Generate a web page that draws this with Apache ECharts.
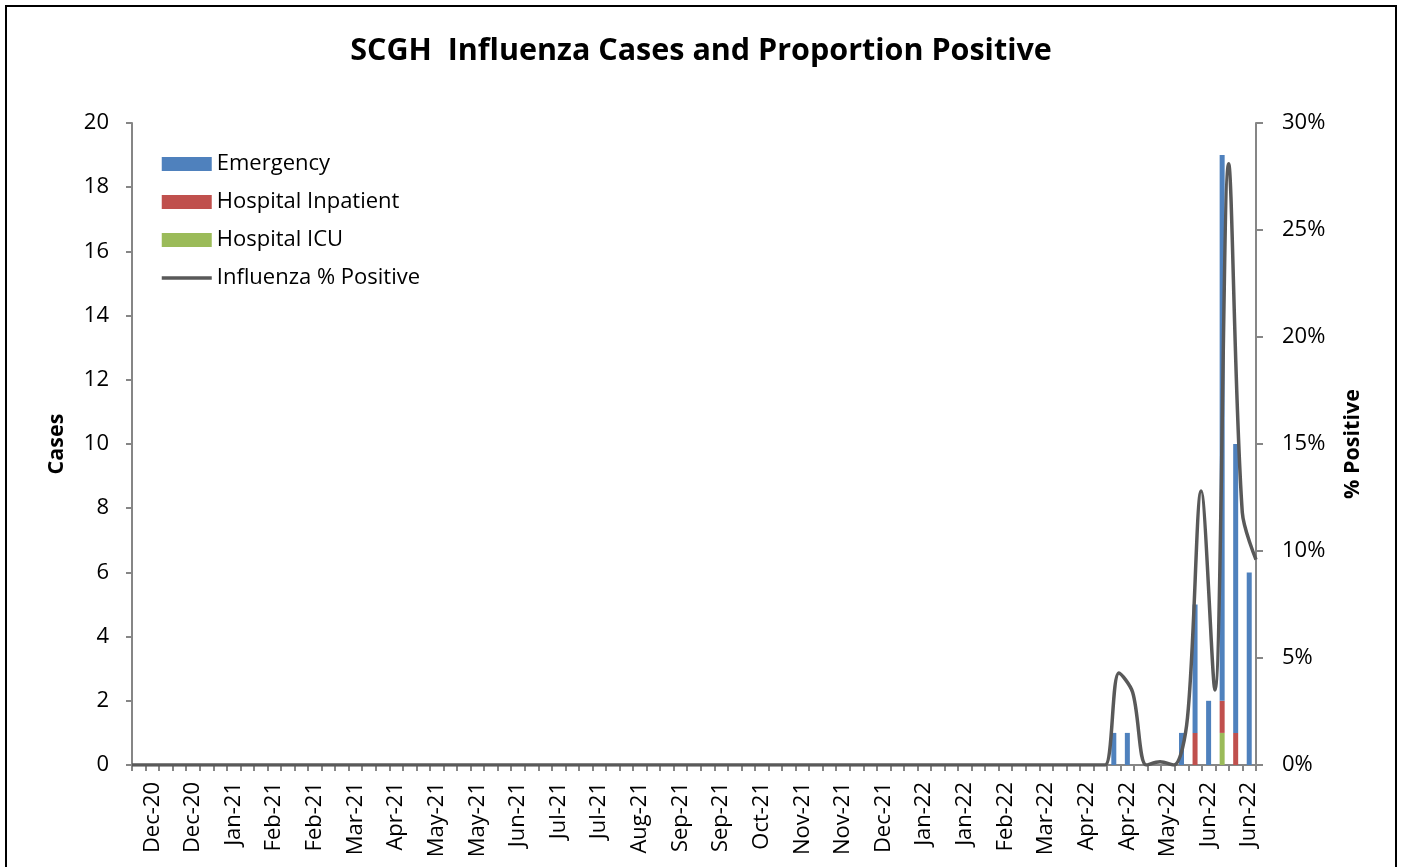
<!DOCTYPE html>
<html>
<head>
<meta charset="utf-8">
<title>SCGH Influenza</title>
<script src="https://cdn.jsdelivr.net/npm/echarts@6/dist/echarts.min.js"></script>
<style>
  html, body { margin: 0; padding: 0; background: #fff; }
  #chart { width: 1402px; height: 867px; }
</style>
</head>
<body>
<div id="chart"></div>
<script>
// weekly categories, Nov-20 .. Jun-22 (83 weeks)
var weeks = [];
for (var w = 0; w < 83; w++) {
  var d = new Date(Date.UTC(2020, 10, 29 + w * 7));
  weeks.push(d.toISOString().slice(0, 10));
}
// labels shown every 3rd week starting at week 1
var tickLabels = ["Dec-20", "Dec-20", "Jan-21", "Feb-21", "Feb-21", "Mar-21", "Apr-21",
  "May-21", "May-21", "Jun-21", "Jul-21", "Jul-21", "Aug-21", "Sep-21", "Sep-21",
  "Oct-21", "Nov-21", "Nov-21", "Dec-21", "Jan-22", "Jan-22", "Feb-22", "Mar-22",
  "Apr-22", "Apr-22", "May-22", "Jun-22", "Jun-22"];

var emergency = [
  0, 0, 0, 0, 0, 0, 0, 0, 0, 0, 0, 0, 0, 0, 0, 0, 0, 0, 0, 0,
  0, 0, 0, 0, 0, 0, 0, 0, 0, 0, 0, 0, 0, 0, 0, 0, 0, 0, 0, 0,
  0, 0, 0, 0, 0, 0, 0, 0, 0, 0, 0, 0, 0, 0, 0, 0, 0, 0, 0, 0,
  0, 0, 0, 0, 0, 0, 0, 0, 0, 0, 0, 0, 1, 1, 0, 0, 0, 1, 4, 2,
  17, 9, 6];
var inpatient = [
  0, 0, 0, 0, 0, 0, 0, 0, 0, 0, 0, 0, 0, 0, 0, 0, 0, 0, 0, 0,
  0, 0, 0, 0, 0, 0, 0, 0, 0, 0, 0, 0, 0, 0, 0, 0, 0, 0, 0, 0,
  0, 0, 0, 0, 0, 0, 0, 0, 0, 0, 0, 0, 0, 0, 0, 0, 0, 0, 0, 0,
  0, 0, 0, 0, 0, 0, 0, 0, 0, 0, 0, 0, 0, 0, 0, 0, 0, 0, 1, 0,
  1, 1, 0];
var icu = [
  0, 0, 0, 0, 0, 0, 0, 0, 0, 0, 0, 0, 0, 0, 0, 0, 0, 0, 0, 0,
  0, 0, 0, 0, 0, 0, 0, 0, 0, 0, 0, 0, 0, 0, 0, 0, 0, 0, 0, 0,
  0, 0, 0, 0, 0, 0, 0, 0, 0, 0, 0, 0, 0, 0, 0, 0, 0, 0, 0, 0,
  0, 0, 0, 0, 0, 0, 0, 0, 0, 0, 0, 0, 0, 0, 0, 0, 0, 0, 0, 0,
  1, 0, 0];
// % positive
var pctPositive = [
  0, 0, 0, 0, 0, 0, 0, 0, 0, 0, 0, 0, 0, 0, 0, 0, 0, 0, 0, 0,
  0, 0, 0, 0, 0, 0, 0, 0, 0, 0, 0, 0, 0, 0, 0, 0, 0, 0, 0, 0,
  0, 0, 0, 0, 0, 0, 0, 0, 0, 0, 0, 0, 0, 0, 0, 0, 0, 0, 0, 0,
  0, 0, 0, 0, 0, 0, 0, 0, 0, 0, 0, 0, 4.3, 3.4, 0, 0.15, 0, 2.2, 12.8, 3.5,
  28.1, 11.8, 9.6];

(function () {
  var myechart = echarts.init(document.getElementById("chart"));
  var font = "'Open Sans', 'Noto Sans', sans-serif";
  var axisColor = "#868686";
  var lineColor = "#595959";

  var option = {
    animation: false,
    textStyle: { fontFamily: font, color: "#000" },
    title: {
      text: "SCGH  Influenza Cases and Proportion Positive",
      left: "center",
      top: 31,
      textStyle: { fontFamily: font, fontSize: 30.5, fontWeight: "bold", color: "#000" },
    },
    graphic: [
      {
        type: "rect",
        shape: { x: 6, y: 6, width: 1390, height: 880 },
        style: { fill: "none", stroke: "#000", lineWidth: 2 },
        silent: true,
      },
    ],
    legend: {
      orient: "vertical",
      left: 155,
      top: 148,
      itemWidth: 50,
      itemHeight: 14,
      itemGap: 16,
      textStyle: { fontFamily: font, fontSize: 22, color: "#000" },
      data: [
        { name: "Emergency", icon: "rect" },
        { name: "Hospital Inpatient", icon: "rect" },
        { name: "Hospital ICU", icon: "rect" },
        { name: "Influenza % Positive", itemStyle: { opacity: 0 }, lineStyle: { width: 3.5 } },
      ],
    },
    grid: {
      left: 132,
      right: 146,
      top: 123,
      bottom: 102,
      containLabel: false,
    },
    xAxis: [
      {
        type: "category",
        data: weeks,
        boundaryGap: true,
        axisLine: { lineStyle: { color: axisColor, width: 2 } },
        axisTick: { show: true, interval: 0, length: 6, lineStyle: { color: axisColor, width: 2 } },
        axisLabel: {
          rotate: 90,
          fontSize: 22,
          color: "#000",
          margin: 17,
          interval: function (index) {
            return index % 3 === 1;
          },
          formatter: function (value, index) {
            return index % 3 === 1 ? tickLabels[(index - 1) / 3] : "";
          },
        },
      },
      {
        type: "category",
        data: weeks,
        boundaryGap: false,
        show: false,
      },
    ],
    yAxis: [
      {
        type: "value",
        name: "Cases",
        nameLocation: "middle",
        nameRotate: 90,
        nameGap: 64,
        nameTextStyle: { fontFamily: font, fontSize: 21.5, fontWeight: "bold", color: "#000" },
        min: 0,
        max: 20,
        interval: 2,
        axisLine: { show: true, lineStyle: { color: axisColor, width: 2 } },
        axisTick: { show: true, length: 6, lineStyle: { color: axisColor, width: 2 } },
        axisLabel: { fontSize: 22, color: "#000", margin: 23 },
        splitLine: { show: false },
      },
      {
        type: "value",
        name: "% Positive",
        nameLocation: "middle",
        nameRotate: 90,
        nameGap: 86,
        nameTextStyle: { fontFamily: font, fontSize: 21.5, fontWeight: "bold", color: "#000" },
        min: 0,
        max: 30,
        interval: 5,
        position: "right",
        axisLine: { show: true, lineStyle: { color: axisColor, width: 2 } },
        axisTick: { show: true, length: 7, lineStyle: { color: axisColor, width: 2 } },
        axisLabel: { fontSize: 22, color: "#000", margin: 26, formatter: "{value}%" },
        splitLine: { show: false },
      },
    ],
    series: [
      {
        name: "Hospital ICU",
        type: "bar",
        stack: "cases",
        barWidth: 5,
        itemStyle: { color: "#9BBB59" },
        data: icu,
      },
      {
        name: "Hospital Inpatient",
        type: "bar",
        stack: "cases",
        barWidth: 5,
        itemStyle: { color: "#C0504D" },
        data: inpatient,
      },
      {
        name: "Emergency",
        type: "bar",
        stack: "cases",
        barWidth: 5,
        itemStyle: { color: "#4F81BD" },
        data: emergency,
      },
      {
        name: "Influenza % Positive",
        type: "line",
        xAxisIndex: 1,
        yAxisIndex: 1,
        smooth: 0.33,
        symbol: "none",
        lineStyle: { color: lineColor, width: 3.5 },
        itemStyle: { color: lineColor },
        data: pctPositive,
      },
    ],
  };

  myechart.setOption(option);
  window.addEventListener("resize", function () {
    myechart.resize();
  });
})();
</script>
</body>
</html>
